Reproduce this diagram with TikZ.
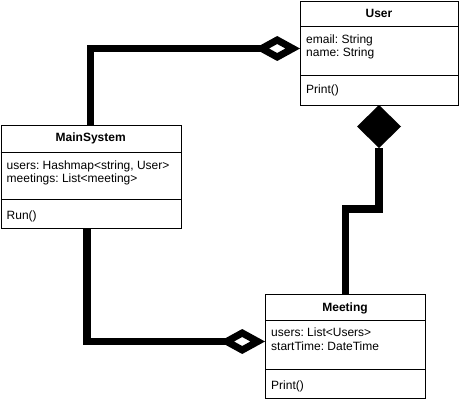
\documentclass[tikz,border=0pt]{standalone}
\usepackage{fontspec}
\setmainfont{Liberation Sans}
\usetikzlibrary{calc}
\frenchspacing
\begin{document}
\begin{tikzpicture}[x=1pt,y=-1pt,
  classbox/.style={draw=black,line width=1pt,fill=white},
  sepline/.style={draw=black,line width=1pt},
  title/.style={font=\fontsize{12}{14}\selectfont\bfseries,inner sep=0pt,text height=9pt,text depth=2.5pt,anchor=center},
  member/.style={font=\fontsize{12}{14}\selectfont,inner sep=0pt,text height=9pt,text depth=2.5pt,anchor=west},
  conn/.style={draw=black,line width=7.5pt,line join=miter,line cap=butt},
  hollowdia/.style={draw=black,fill=white,line width=7pt,line join=miter},
  filleddia/.style={fill=black,draw=none}]
\useasboundingbox (0,0) rectangle (461,402);
\fill[white] (0,0) rectangle (461,402);

% class boxes
\node[classbox,minimum width=158pt,minimum height=104.5pt,inner sep=0pt,anchor=north west] (user) at (300,0.5) {};
\node[classbox,minimum width=180.5pt,minimum height=103.5pt,inner sep=0pt,anchor=north west] (ms) at (0.5,124.5) {};
\node[classbox,minimum width=160pt,minimum height=104pt,inner sep=0pt,anchor=north west] (meet) at (265,294) {};

% separators
\draw[sepline] (user.west |- 0,26) -- (user.east |- 0,26);
\draw[sepline] (user.west |- 0,75) -- (user.east |- 0,75);
\draw[sepline] (ms.west |- 0,152) -- (ms.east |- 0,152);
\draw[sepline] (ms.west |- 0,199) -- (ms.east |- 0,199);
\draw[sepline] (meet.west |- 0,320) -- (meet.east |- 0,320);
\draw[sepline] (meet.west |- 0,369) -- (meet.east |- 0,369);

% texts
\node[title] (usertitle) at (379,14) {User};
\node[member] (useremail) at (306,40) {email: String};
\node[member] (username) at (306,53.5) {name: String};
\node[member] (userprint) at (306,90) {Print()};

\node[title] (mstitle) at (90.75,138) {MainSystem};
\node[member] (msusers) at (6.5,166) {users: Hashmap<string, User>};
\node[member] (msmeet) at (6.5,179.5) {meetings: List<meeting>};
\node[member] (msrun) at (6.5,216) {Run()};

\node[title] (meettitle) at (345,308) {Meeting};
\node[member] (meetusers) at (271,333) {users: List<Users>};
\node[member] (meetstart) at (271,347.5) {startTime: DateTime};
\node[member] (meetprint) at (271,386) {Print()};

% connector coordinates
\coordinate (c1s) at (90.5,124.5);
\coordinate (c1b) at (90.5,48.5);
\coordinate (c1d) at (277.2,48.5);
\coordinate (c2d) at (379,148);
\coordinate (c2a) at (379,209);
\coordinate (c2b) at (345.5,209);
\coordinate (c2e) at (345.5,294);
\coordinate (c3s) at (87,228);
\coordinate (c3b) at (87,341.5);
\coordinate (c3d) at (242.2,341.5);

% connectors
\draw[conn] (c1s) -- (c1b) -- (c1d);
\draw[conn] (c2d) -- (c2a) -- (c2b) -- (c2e);
\draw[conn] (c3s) -- (c3b) -- (c3d);

% diamonds
\draw[hollowdia] ($(c1d)+(-15.5,0)$) -- ($(c1d)+(0,-8.5)$) -- ($(c1d)+(15.5,0)$) -- ($(c1d)+(0,8.5)$) -- cycle;
\draw[hollowdia] ($(c3d)+(-15.5,0)$) -- ($(c3d)+(0,-8.5)$) -- ($(c3d)+(15.5,0)$) -- ($(c3d)+(0,8.5)$) -- cycle;
\fill[filleddia] (379,105) -- (401,126.5) -- (c2d) -- (357,126.5) -- cycle;
\end{tikzpicture}
\end{document}
